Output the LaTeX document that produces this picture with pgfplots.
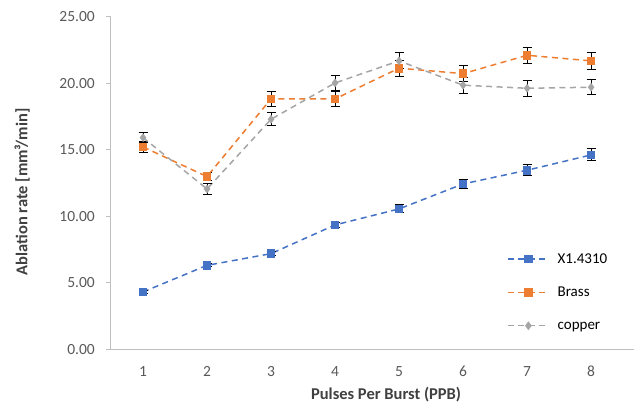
\documentclass[border=0pt]{standalone}
\usepackage{fontspec}
\setmainfont{Carlito}
\usepackage{pgfplots}
\pgfplotsset{compat=1.18}
\usepackage{pgfplotstable}
\definecolor{cblue}{HTML}{4472C4}
\definecolor{corange}{HTML}{ED7D31}
\definecolor{cgray}{HTML}{A5A5A5}
\definecolor{ticktext}{HTML}{595959}
\definecolor{titletext}{HTML}{404040}
\definecolor{axisline}{HTML}{BFBFBF}

\pgfplotstableread{
x y e
1 4.31 0.12
2 6.31 0.12
3 7.19 0.15
4 9.35 0.2
5 10.55 0.3
6 12.43 0.35
7 13.46 0.4
8 14.61 0.45
}\steel
\pgfplotstableread{
x y e
1 15.21 0.44
2 12.98 0.3
3 18.82 0.56
4 18.82 0.56
5 21.13 0.6
6 20.72 0.6
7 22.10 0.62
8 21.68 0.65
}\brass
\pgfplotstableread{
x y e
1 15.91 0.4
2 12.05 0.38
3 17.29 0.5
4 20.02 0.57
5 21.68 0.6
6 19.85 0.6
7 19.62 0.58
8 19.70 0.58
}\copper

\begin{document}
\begin{tikzpicture}[x=1pt,y=1pt]
\useasboundingbox (0,0) rectangle (634,406);
\begin{axis}[
  at={(111pt,56.7pt)}, anchor=south west,
  scale only axis, width=523pt, height=332.6pt,
  xmin=0.5, xmax=8.67, ymin=0, ymax=25,
  axis lines*=left,
  axis line style={axisline, line width=1pt},
  xtick={1,...,8},
  ytick={0,5,10,15,20,25},
  x tick style={draw=none},
  y tick style={axisline, line width=1pt},
  tick align=outside, major tick length=5pt,
  tick pos=left,
  /pgf/number format/assume math mode=true,
  yticklabel={\pgfmathprintnumber[fixed, fixed zerofill, precision=2]{\tick}},
  ticklabel style={font=\fontsize{15.5}{18}\selectfont, text=ticktext},
  xticklabel style={anchor=center, yshift=-17pt},
  yticklabel style={anchor=east, inner sep=0pt, xshift=-11pt},
  xlabel={Pulses Per Burst (PPB)},
  ylabel={Ablation rate [mm³/min]},
  label style={font=\bfseries\fontsize{16.5}{19}\selectfont, text=titletext},
  xlabel style={at={(axis description cs:0.526,-0.137)}, anchor=center},
  ylabel style={at={(axis description cs:-0.170,0.473)}, anchor=center, rotate=0},
  legend cell align=left,
  legend style={draw=none, fill=none, inner sep=0pt,
    at={(axis description cs:0.757,0.171)}, anchor=west,
    font=\fontsize{15}{18}\selectfont,
    row sep=19.3pt,
    nodes={inner xsep=8pt, inner ysep=0pt, text height=11pt, text depth=3pt}},
  legend image code/.code={\draw[mark repeat=2,mark phase=2,#1] plot coordinates {(0pt,0pt) (20.5pt,0pt) (41pt,0pt)};},
  every axis plot/.append style={line width=1.5pt, dash pattern=on 6pt off 4.5pt},
  error bars/error bar style={black, line width=0.9pt, solid},
  error bars/error mark options={black, rotate=90, mark size=4.5pt, line width=0.9pt, solid},
]
\addplot[cblue, mark=square*, mark size=3.6pt, mark options={solid, fill=cblue, draw=cblue},
  error bars/.cd, y dir=both, y explicit] table[x=x, y=y, y error=e] {\steel};
\addlegendentry{X1.4310}
\addplot[corange, mark=square*, mark size=3.6pt, mark options={solid, fill=corange, draw=corange},
  error bars/.cd, y dir=both, y explicit] table[x=x, y=y, y error=e] {\brass};
\addlegendentry{Brass}
\addplot[cgray, mark=diamond*, mark size=3.2pt, mark options={solid, fill=cgray, draw=cgray},
  error bars/.cd, y dir=both, y explicit] table[x=x, y=y, y error=e] {\copper};
\addlegendentry{copper}
\end{axis}
\end{tikzpicture}
\end{document}
